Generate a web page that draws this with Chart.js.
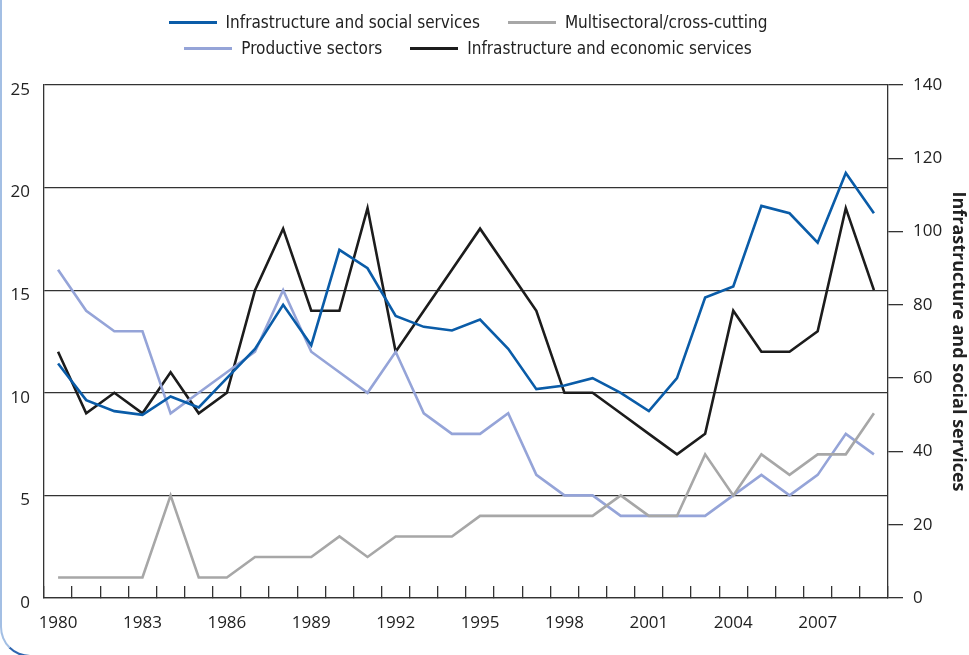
<!DOCTYPE html>
<html>
<head>
<meta charset="utf-8">
<script src="https://cdn.jsdelivr.net/npm/chart.js@4.4.1/dist/chart.umd.min.js"></script>
<style>
  html, body { margin: 0; padding: 0; background: #fff; overflow: hidden; }
  #wrap { position: relative; width: 969px; height: 655px; overflow: hidden; }
  #frame { position: absolute; left: 0; top: -20px; width: 1100px; height: 677px; box-sizing: border-box;
    border-left: 2px solid #a3bfe4; border-bottom: 2px solid #2f66b0; border-bottom-left-radius: 30px; }
  #legend { position: absolute; top: 9px; left: 0; width: 936px; text-align: center;
    font-family: "Liberation Sans Narrow", "DejaVu Sans Condensed", sans-serif; font-size: 17px; color: #222; }
  .row { height: 26px; display: flex; justify-content: center; align-items: center; }
  .item { display: flex; align-items: center; margin: 0 14px; }
  .sw { width: 48px; height: 3px; margin-right: 9px; }
  canvas { position: absolute; left: 0; top: 0; }
</style>
</head>
<body>
<div id="wrap">
  <div id="frame"></div>
  <canvas id="chart" width="969" height="655"></canvas>
  <div id="legend"></div>
</div>
<script>
// categories
const years = ['1980','1981','1982','1983','1984','1985','1986','1987','1988','1989',
  '1990','1991','1992','1993','1994','1995','1996','1997','1998','1999',
  '2000','2001','2002','2003','2004','2005','2006','2007','2008','2009'];
const xTickLabels = ['1980','1983','1986','1989','1992','1995','1998','2001','2004','2007'];

// series (social infrastructure is on the right axis)
const socialInfra = [64,54,51,50,55,52,60,68,80,69,95,90,77,74,73,76,68,57,58,60,56,51,60,82,85,107,105,97,116,105];
const multisector = [1,1,1,1,5,1,1,2,2,2,3,2,3,3,3,4,4,4,4,4,5,4,4,7,5,7,6,7,7,9];
const productive = [16,14,13,13,9,10,11,12,15,12,11,10,12,9,8,8,9,6,5,5,4,4,4,4,5,6,5,6,8,7];
const economicInfra = [12,9,10,9,11,9,10,15,18,14,14,19,12,14,16,18,16,14,10,10,9,8,7,8,14,12,12,13,19,15];

// axis ranges
const leftRange = [0, 25, 5];
const rightRange = [0, 140, 20];

const tickFont = { family: 'Open Sans', size: 17 };
const ink = '#222';
const rule = '#333';

const ctx = document.getElementById('chart');
const chart = new Chart(ctx.getContext('2d'), {
  type: 'line',
  data: {
    labels: years,
    datasets: [
      { label: 'Infrastructure and social services', data: socialInfra, yAxisID: 'y2', borderColor: '#0a5ca8', borderWidth: 2.6 },
      { label: 'Multisectoral/cross-cutting', data: multisector, yAxisID: 'y', borderColor: '#a7a7a7', borderWidth: 2.6 },
      { label: 'Productive sectors', data: productive, yAxisID: 'y', borderColor: '#95a4d8', borderWidth: 2.6 },
      { label: 'Infrastructure and economic services', data: economicInfra, yAxisID: 'y', borderColor: '#1c1c1c', borderWidth: 2.6 }
    ]
  },
  options: {
    responsive: false, animation: false,
    elements: { point: { radius: 0 }, line: { tension: 0 } },
    layout: { padding: { top: 85, left: 0, right: 0, bottom: 0 } },
    plugins: { legend: { display: false }, tooltip: { enabled: false } },
    scales: {
      x: {
        type: 'category', offset: true,
        grid: { offset: true, drawOnChartArea: false, drawTicks: true, tickLength: -12, color: rule, lineWidth: 1.3 },
        border: { display: true, color: rule, width: 1.3 },
        ticks: {
          autoSkip: false, maxRotation: 0, padding: 27, font: tickFont, color: ink,
          callback: function(v){ const l = this.getLabelForValue(v); return xTickLabels.includes(l) ? l : ''; }
        },
        afterFit: s => { s.height = 57; }
      },
      y: {
        position: 'left', min: leftRange[0], max: leftRange[1],
        ticks: { stepSize: leftRange[2], padding: 14, labelOffset: 5, font: tickFont, color: ink },
        grid: { color: rule, lineWidth: 1.3, drawTicks: false },
        border: { display: true, color: rule, width: 1.3 },
        afterFit: s => { s.width = 44; }
      },
      y2: {
        position: 'right', min: rightRange[0], max: rightRange[1],
        ticks: { stepSize: rightRange[2], padding: 10, font: tickFont, color: ink },
        grid: { drawOnChartArea: false, tickLength: 15, color: rule, lineWidth: 1.3 },
        border: { display: true, color: rule, width: 1.3 },
        title: { display: true, text: 'Infrastructure and social services', color: ink, padding: 0,
          font: { family: 'Open Sans', size: 18, weight: 'bold' } },
        afterFit: s => { s.width = 81; }
      }
    }
  }
});

// two-row legend, two items per row
const legend = document.getElementById('legend');
const ds = chart.data.datasets;
for (let r = 0; r < ds.length; r += 2) {
  const row = document.createElement('div');
  row.className = 'row';
  ds.slice(r, r + 2).forEach(d => {
    const it = document.createElement('div');
    it.className = 'item';
    it.innerHTML = `<span class="sw" style="background:${d.borderColor}"></span><span>${d.label}</span>`;
    row.appendChild(it);
  });
  legend.appendChild(row);
}
</script>
</body>
</html>
